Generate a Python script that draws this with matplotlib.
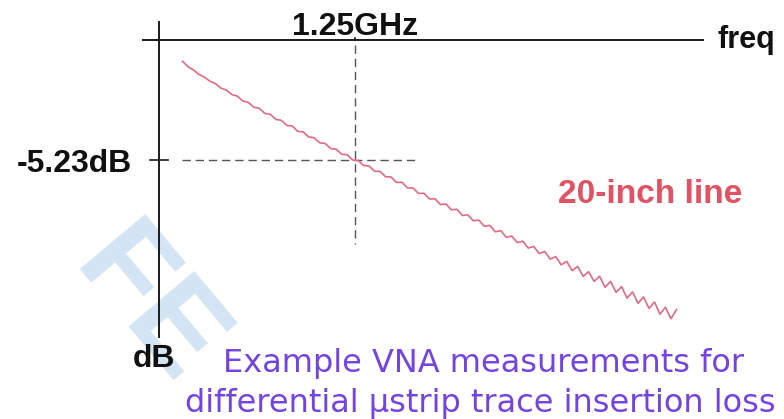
import matplotlib.pyplot as plt

# insertion loss of the 20-inch line
freq_ghz = [0.150, 0.185, 0.220, 0.255, 0.290, 0.325, 0.360, 0.395, 0.430, 0.465,
            0.500, 0.535, 0.570, 0.605, 0.640, 0.675, 0.710, 0.745, 0.780, 0.815,
            0.850, 0.885, 0.920, 0.955, 0.990, 1.025, 1.060, 1.095, 1.130, 1.165,
            1.200, 1.235, 1.270, 1.305, 1.340, 1.375, 1.410, 1.445, 1.480, 1.515,
            1.550, 1.585, 1.620, 1.655, 1.690, 1.725, 1.760, 1.795, 1.830, 1.865,
            1.900, 1.935, 1.970, 2.005, 2.040, 2.075, 2.110, 2.145, 2.180, 2.215,
            2.250, 2.285, 2.320, 2.355, 2.390, 2.425, 2.460, 2.495, 2.530, 2.565,
            2.600, 2.635, 2.670, 2.705, 2.740, 2.775, 2.810, 2.845, 2.880, 2.915,
            2.950, 2.985, 3.020, 3.055, 3.090, 3.125, 3.160, 3.195, 3.230, 3.265,
            3.300]
loss_db = [-0.93, -1.16, -1.31, -1.50, -1.62, -1.80, -1.90, -2.10, -2.18, -2.38,
           -2.45, -2.66, -2.72, -2.93, -2.98, -3.20, -3.24, -3.46, -3.50, -3.72,
           -3.75, -3.98, -4.01, -4.23, -4.26, -4.48, -4.51, -4.73, -4.76, -4.98,
           -5.00, -5.23, -5.25, -5.47, -5.49, -5.72, -5.73, -5.96, -5.97, -6.21,
           -6.20, -6.45, -6.45, -6.69, -6.68, -6.93, -6.92, -7.17, -7.15, -7.40,
           -7.38, -7.65, -7.62, -7.88, -7.85, -8.12, -8.08, -8.36, -8.31, -8.60,
           -8.55, -8.83, -8.77, -9.07, -9.00, -9.31, -9.22, -9.55, -9.44, -9.80,
           -9.65, -10.05, -9.87, -10.30, -10.10, -10.52, -10.30, -10.78, -10.52, -11.00,
           -10.75, -11.25, -10.98, -11.48, -11.20, -11.70, -11.42, -11.95, -11.65, -12.15,
           -11.75]

marker_freq = 1.25
marker_db = -5.23
marker_labels = ['1.25GHz', '-5.23dB']
caption = ['Example VNA measurements for', 'differential \u00b5strip trace insertion loss']

plt.rcParams['font.family'] = ['Liberation Sans', 'DejaVu Sans']

fig = plt.figure(figsize=(7.84, 4.19), dpi=100)
ax = fig.add_axes([0, 0, 1, 1])
ax.set_xlim(-1.014, 3.986)
ax.set_ylim(-16.52, 1.744)
ax.axis('off')

# faint watermark in the corner
ax.text(-0.08, -11.7, 'FE', fontsize=90, fontweight='bold', color='#d3e5f4',
        rotation=-50, ha='center', va='center', zorder=0)

# axes drawn by hand
axis_col = '#1a1a1a'
ax.plot([-0.1, 3.47], [0, 0], color=axis_col, lw=1.4)
ax.plot([0, 0], [0.78, -12.95], color=axis_col, lw=1.4)
ax.plot([-0.06, 0.06], [marker_db, marker_db], color=axis_col, lw=1.2)
ax.plot([marker_freq, marker_freq], [0.1, 0], color=axis_col, lw=1.2)

# dashed guide lines
ax.plot([marker_freq, marker_freq], [-0.2, -8.9], color='#555555', lw=1, ls=(0, (6, 3.5)))
ax.plot([0.146, 1.63], [marker_db, marker_db], color='#555555', lw=1, ls=(0, (6, 3.5)))

ax.plot(freq_ghz, loss_db, color='#e46a80', lw=1.2, zorder=3)

lab = dict(fontsize=23, fontweight='bold', color='#111111')
ax.text(marker_freq, 0.22, marker_labels[0], ha='center', va='baseline', **lab)
ax.text(3.56, -0.35, 'freq', ha='left', va='baseline', fontsize=22, fontweight='bold',
        color='#111111')
ax.text(-0.17, -5.75, marker_labels[1], ha='right', va='baseline', **lab)
ax.text(-0.165, -14.25, 'dB', ha='left', va='baseline', **lab)
ax.text(3.72, -7.1, '20-inch line', fontsize=24, fontweight='bold', color='#e25262',
        ha='right', va='baseline')

cap = dict(fontsize=23, color='#7443e4', family='DejaVu Sans', va='baseline', ha='left')
ax.text(0.41, -14.47, caption[0], **cap)
ax.text(0.165, -16.22, caption[1], **cap)

fig.savefig('out.png', dpi=100)
